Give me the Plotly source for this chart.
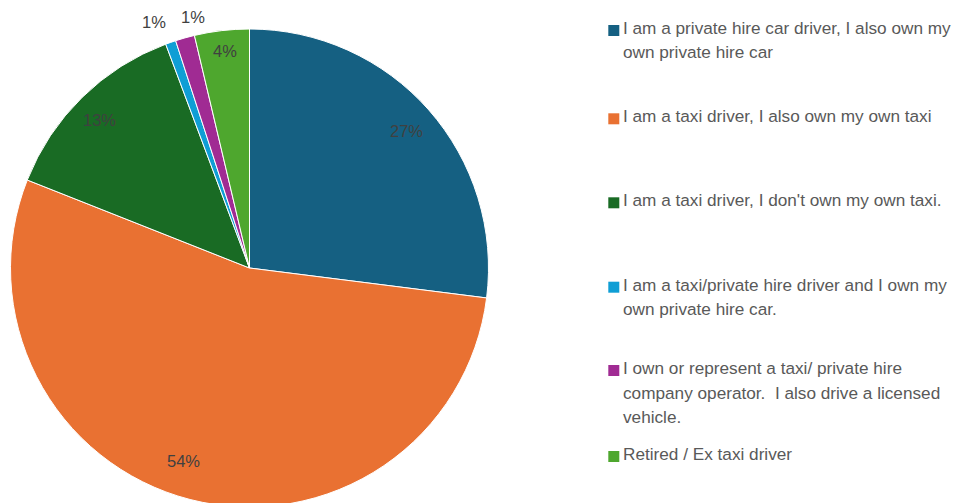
import math
import plotly.graph_objects as go

# Survey respondents by driver / operator type (share of responses, %)
categories = [
    "I am a private hire car driver, I also own my\nown private hire car",
    "I am a taxi driver, I also own my own taxi",
    "I am a taxi driver, I don't own my own taxi.",
    "I am a taxi/private hire driver and I own my\nown private hire car.",
    "I own or represent a taxi/ private hire\ncompany operator.  I also drive a licensed\nvehicle.",
    "Retired / Ex taxi driver",
]
shares = [27.0, 54.0, 13.3, 0.7, 1.3, 3.7]
colors = ["#156082", "#E97132", "#196B24", "#0F9ED5", "#A02B93", "#4EA72E"]

W, H = 956, 509
CX, CY, R = 249.5, 268.0, 239.0
FONT = "Liberation Sans, Arial, sans-serif"

# Pixel nudges applied to each percentage label so they fit clear of each other
label_nudge = [(1.5, 0.5), (-14, -8), (-4.5, 0), (-10, 0), (14, 0), (0, -10)]


def px_x(x):
    return x / W


def px_y(y):
    return 1 - y / H


fig = go.Figure(
    go.Pie(
        labels=[c.replace("\n", " ") for c in categories],
        values=shares,
        sort=False,
        direction="clockwise",
        rotation=0,
        marker=dict(colors=colors, line=dict(color="white", width=1)),
        textinfo="none",
        hoverinfo="label+percent",
        showlegend=False,
        domain=dict(x=[px_x(CX - R), px_x(CX + R)], y=[px_y(CY + R), px_y(CY - R)]),
    )
)

annotations = []
shapes = []

# Percentage labels placed along each slice's mid-angle
total = sum(shares)
cum = 0.0
for v, (nx, ny) in zip(shares, label_nudge):
    mid = (cum + v / 2) / total * 2 * math.pi
    cum += v
    frac = v / total
    r = 0.87 * R if frac >= 0.02 else 1.09 * R
    x = CX + r * math.sin(mid) + nx
    y = CY - r * math.cos(mid) + ny
    annotations.append(dict(
        x=px_x(x), y=px_y(y), xref="paper", yref="paper",
        text=f"{round(frac * 100)}%", showarrow=False,
        xanchor="center", yanchor="middle",
        font=dict(family=FONT, size=16.5, color="#404040"),
    ))

# Legend on the right: coloured square + wrapped category text
first_baselines = [35, 123.3, 207.3, 291.7, 375, 461]
line_gap = 24.5
for cat, col, base in zip(categories, colors, first_baselines):
    shapes.append(dict(
        type="rect", xref="paper", yref="paper",
        x0=px_x(608.3), x1=px_x(619.3), y0=px_y(base + 1), y1=px_y(base - 10),
        fillcolor=col, line=dict(width=0),
    ))
    for i, line in enumerate(cat.split("\n")):
        annotations.append(dict(
            x=px_x(620.5), y=px_y(base + i * line_gap - 7),
            xref="paper", yref="paper",
            text=line.replace("  ", " \u00a0"), showarrow=False,
            xanchor="left", yanchor="middle",
            font=dict(family=FONT, size=17.2, color="#595959"),
        ))

fig.update_layout(
    width=W, height=H,
    margin=dict(l=0, r=0, t=0, b=0),
    paper_bgcolor="white", plot_bgcolor="white",
    annotations=annotations, shapes=shapes,
)

fig.write_html(
    "out.html",
    post_script="document.documentElement.style.overflow='hidden';"
                "document.body.style.overflow='hidden';document.body.style.margin='0';",
)
